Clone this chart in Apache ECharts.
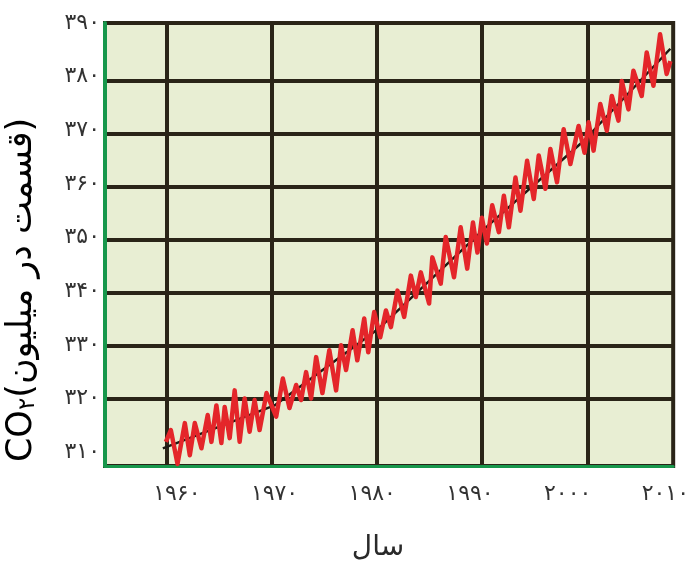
<!DOCTYPE html>
<html><head><meta charset="utf-8">
<script src="https://cdn.jsdelivr.net/npm/echarts@6/dist/echarts.min.js"></script>
<style>html,body{margin:0;padding:0;background:#fff}#c{width:692px;height:568px}</style>
</head><body><div id="c"></div>
<script>
// Red seasonal curve (year, ppm)
const redYears = [1958.88,1959.39,1960.07,1960.82,1961.33,1961.84,1962.52,1963.16,1963.54,1964.05,1964.56,1964.90,1965.41,1965.92,1966.43,1966.94,1967.45,1967.96,1968.47,1969.18,1970.17,1970.85,1971.53,1972.21,1972.72,1973.23,1973.74,1974.26,1974.90,1975.61,1976.30,1976.81,1977.32,1977.99,1978.47,1979.18,1979.59,1980.20,1980.82,1981.40,1981.91,1982.58,1983.27,1983.95,1984.46,1984.97,1985.82,1986.15,1987.01,1987.52,1988.37,1989.05,1989.72,1990.31,1990.77,1991.22,1991.73,1992.28,1992.96,1993.47,1993.98,1994.66,1995.17,1995.85,1996.53,1997.04,1997.72,1998.23,1998.91,1999.59,2000.28,2001.12,2001.73,2002.14,2002.65,2003.34,2004.01,2004.52,2005.20,2005.54,2006.22,2006.73,2007.58,2008.09,2008.78,2009.46,2010.13,2010.51];
const redValues = [311.9,314.1,307.8,315.4,309.4,315.4,310.7,316.9,311.9,318.7,311.7,318.4,312.6,321.5,311.9,320.0,313.8,319.7,314.1,321.0,316.6,323.7,318.2,322.5,319.7,324.9,320.0,327.7,321.0,329.0,321.5,329.9,325.3,332.7,327.1,334.9,328.6,336.1,331.4,336.4,333.3,340.1,335.2,342.9,338.9,343.5,337.7,346.3,341.4,350.1,342.6,351.9,344.2,352.8,347.2,353.7,348.9,356.0,351.0,357.8,351.9,361.2,355.0,364.3,357.2,365.3,359.1,366.5,360.3,370.2,363.7,370.8,365.8,371.5,366.2,374.9,369.9,376.4,371.8,379.2,373.9,381.1,376.4,384.5,378.3,387.9,380.5,382.9];
// Black trend line
const trendYears = [1958.57,1970.0,1980.71,1991.53,2001.63,2010.51];
const trendValues = [310.7,318.7,333.1,351.7,368.0,385.2];
// Tick labels and grid lines
const xLabelYears = [1960,1970,1980,1990,2000,2010];
const yLabelValues = [310,320,330,340,350,360,370,380,390];
const xGridYears = [1960,1970,1980,1990,2000];
const yGridValues = [320,330,340,350,360,370,380];
const xTitle = 'سال';
const yTitleMain = 'CO';
const yTitleSub = '۲';
const yTitleRest = '(قسمت در میلیون)';

const fa = '۰۱۲۳۴۵۶۷۸۹';
const toFa = v => String(Math.round(v)).replace(/[0-9]/g, d => fa[+d]);

const GREEN = '#17974b', DARK = '#2a2417', RED = '#e4262a';
const font = "'DejaVu Sans', sans-serif";

const chart = echarts.init(document.getElementById('c'), null, {renderer: 'canvas'});
chart.setOption({
  animation: false,
  grid: {left: 105, right: 17, top: 23, bottom: 102, show: true, backgroundColor: '#e8eed3', borderColor: DARK, borderWidth: 4},
  xAxis: [
    {type: 'value', min: 1952.65, max: 2010.8, position: 'bottom',
     axisLine: {show: true, onZero: false, lineStyle: {color: GREEN, width: 3}},
     axisTick: {show: false},
     splitLine: {show: false},
     axisLabel: {customValues: xLabelYears, formatter: toFa, margin: 17, fontSize: 22, color: '#333333', fontFamily: font}},
    {type: 'value', min: 1954.14, max: 2008.17, position: 'top',
     axisLine: {show: false}, axisLabel: {show: false},
     axisTick: {show: false, customValues: xGridYears},
     splitLine: {show: true, lineStyle: {color: DARK, width: 4}}}
  ],
  yAxis: [
    {type: 'value', min: 307.4, max: 390, position: 'left',
     axisLine: {show: true, onZero: false, lineStyle: {color: GREEN, width: 4}},
     axisTick: {show: false},
     splitLine: {show: false},
     axisLabel: {customValues: yLabelValues, formatter: toFa, margin: 5, fontSize: 22, color: '#333333', fontFamily: font}},
    {type: 'value', min: 307.4, max: 390.8, position: 'right',
     axisLine: {show: false}, axisLabel: {show: false},
     axisTick: {show: false, customValues: yGridValues},
     splitLine: {show: true, lineStyle: {color: DARK, width: 4}}}
  ],
  series: [
    {type: 'line', xAxisIndex: 0, yAxisIndex: 0, symbol: 'none', z: 3,
     data: trendYears.map((y, i) => [y, trendValues[i]]),
     lineStyle: {color: '#1c1a14', width: 2.5}},
    {type: 'line', xAxisIndex: 0, yAxisIndex: 0, symbol: 'none', z: 4, clip: false,
     data: redYears.map((y, i) => [y, redValues[i]]),
     lineStyle: {color: RED, width: 4.5, join: 'round'}}
  ],
  graphic: [
    {type: 'text', x: 378, y: 548, style: {text: xTitle, font: "28px " + font, fill: '#2a2a2a', align: 'center', verticalAlign: 'middle'}},
    {type: 'text', x: 22, y: 290, rotation: Math.PI / 2,
     style: {text: '{a|' + yTitleMain + '}{b|' + yTitleSub + '}{a|' + yTitleRest + '}', align: 'center', verticalAlign: 'middle',
       rich: {a: {fontSize: 35, fontFamily: font, color: '#2a2a2a'},
              b: {fontSize: 23, fontFamily: font, color: '#2a2a2a', verticalAlign: 'bottom', padding: [13, 0, 0, 0]}}}}
  ]
});
</script></body></html>
